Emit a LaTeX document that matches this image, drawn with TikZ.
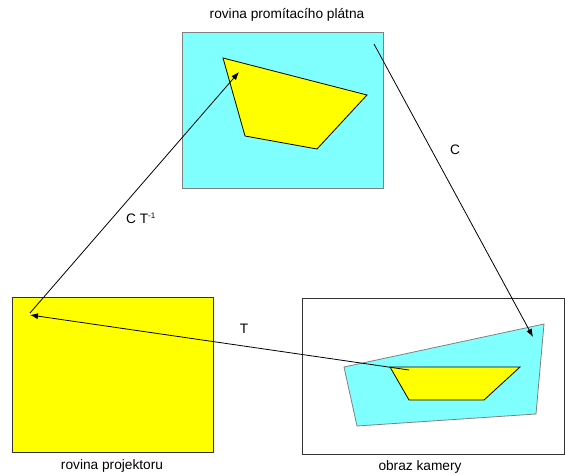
\documentclass[tikz,border=0pt]{standalone}
\usepackage{fontspec}
\setmainfont{Liberation Sans}
\usetikzlibrary{arrows, arrows.meta, positioning}
\definecolor{svetlemodra}{HTML}{80FFFF}
\definecolor{zluta}{HTML}{FFFF00}

\begin{document}
\begin{tikzpicture}[x=1pt, y=-1pt, font=\fontsize{13.7}{16}\selectfont,
    sipka/.style={draw=black, line width=0.8pt, -{Latex[length=8pt, width=6pt]}}]
    \useasboundingbox (0, 0) rectangle (565, 474);

    % roviny
    \draw[fill=svetlemodra, draw=gray, line width=0.8pt] (182, 32) rectangle (383, 188);
    \draw[fill=zluta, draw=black!80, line width=0.8pt] (12, 297) rectangle (213, 452);
    \draw[draw=black!80, line width=0.8pt] (302, 298) rectangle (564, 454);

    % ctyruhelniky
    \draw[fill=zluta, draw=black, line width=0.8pt] (223, 58) -- (367, 95) -- (317, 149) -- (245, 136) -- cycle;
    \draw[fill=svetlemodra, draw=gray, line width=0.8pt] (344, 367) -- (544, 324) -- (536, 414) -- (357, 426) -- cycle;
    \draw[fill=zluta, draw=black, line width=0.8pt] (390, 367) -- (520, 367) -- (484, 400) -- (409, 400) -- cycle;

    % popisky
    \node (platno) at (287, 15) {rovina promítacího plátna};
    \node (projektor) at (112, 466) {rovina projektoru};
    \node (kamera) at (420, 467) {obraz kamery};

    % body sipek
    \coordinate (P0) at (30, 313);
    \coordinate (P1) at (30, 315);
    \coordinate (S0) at (374, 44);
    \coordinate (S1) at (239, 72);
    \coordinate (K0) at (533, 337);
    \coordinate (K1) at (409, 370);

    \draw[sipka] (S0) -- (K0);
    \draw[sipka] (P0) -- (S1);
    \draw[sipka] (K1) -- (P1);

    \node (C) at (455, 150) {C};
    \node (CT) at (141, 218) {C T\textsuperscript{\fontsize{8}{8}\selectfont -1}};
    \node (T) at (244, 329) {T};
\end{tikzpicture}
\end{document}
